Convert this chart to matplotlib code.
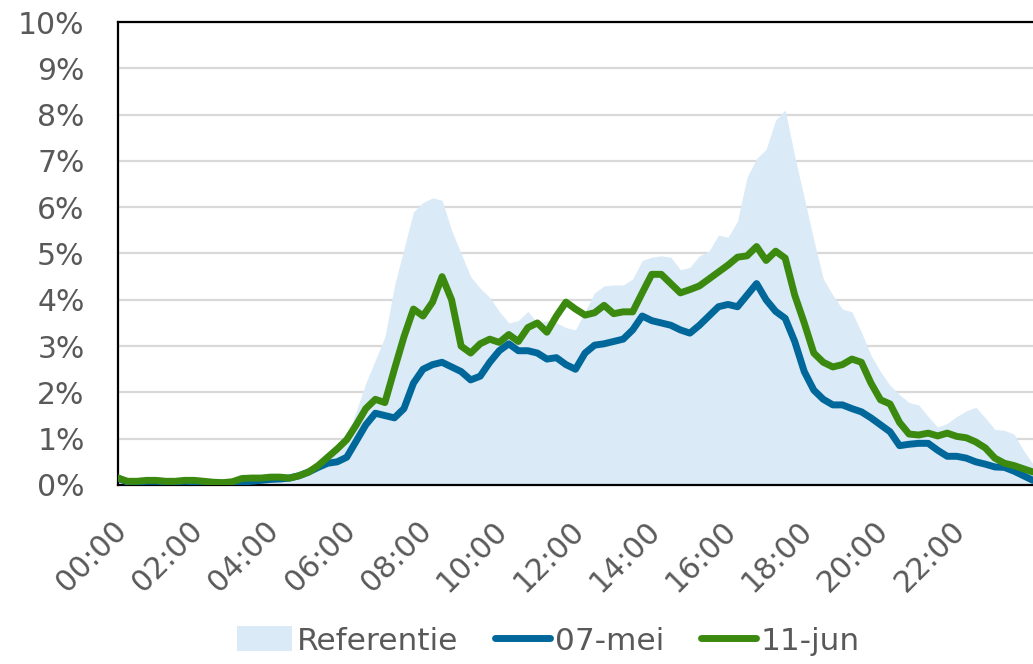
import numpy as np
import matplotlib
matplotlib.use("Agg")
import matplotlib.pyplot as plt
from matplotlib.patches import Patch
from matplotlib.lines import Line2D
from matplotlib.ticker import FuncFormatter, MultipleLocator
from matplotlib.transforms import ScaledTranslation

# --- data: share of daily traffic per quarter hour (%) ---
uren = np.arange(0, 24.01, 0.25)

referentie = [
    0.15, 0.12, 0.10, 0.10, 0.10, 0.08, 0.08, 0.08,
    0.08, 0.07, 0.07, 0.07, 0.08, 0.10, 0.12, 0.14,
    0.16, 0.20, 0.25, 0.30, 0.38, 0.50, 0.65, 0.85,
    1.05, 1.60, 2.20, 2.70, 3.20, 4.30, 5.10, 5.90,
    6.10, 6.20, 6.15, 5.50, 5.00, 4.50, 4.25, 4.05,
    3.75, 3.50, 3.55, 3.75, 3.50, 3.55, 3.50, 3.40,
    3.35, 3.75, 4.15, 4.30, 4.32, 4.32, 4.45, 4.85,
    4.92, 4.95, 4.92, 4.65, 4.70, 4.95, 5.05, 5.40,
    5.35, 5.70, 6.65, 7.05, 7.25, 7.88, 8.10, 7.10,
    6.20, 5.29, 4.45, 4.10, 3.80, 3.74, 3.30, 2.80,
    2.45, 2.15, 1.95, 1.78, 1.73, 1.48, 1.25, 1.33,
    1.48, 1.60, 1.68, 1.45, 1.20, 1.18, 1.10, 0.75,
    0.45,
]

mei_07 = [
    0.15, 0.06, 0.06, 0.08, 0.08, 0.07, 0.07, 0.08,
    0.07, 0.05, 0.05, 0.04, 0.04, 0.06, 0.08, 0.10,
    0.12, 0.13, 0.15, 0.20, 0.28, 0.38, 0.47, 0.50,
    0.60, 0.95, 1.30, 1.55, 1.50, 1.45, 1.65, 2.20,
    2.50, 2.60, 2.65, 2.55, 2.45, 2.27, 2.35, 2.65,
    2.90, 3.05, 2.90, 2.90, 2.85, 2.72, 2.75, 2.60,
    2.50, 2.85, 3.02, 3.05, 3.10, 3.15, 3.35, 3.65,
    3.55, 3.50, 3.45, 3.35, 3.28, 3.45, 3.65, 3.85,
    3.90, 3.85, 4.10, 4.35, 4.00, 3.75, 3.60, 3.10,
    2.45, 2.05, 1.85, 1.73, 1.73, 1.65, 1.58, 1.45,
    1.30, 1.15, 0.85, 0.88, 0.90, 0.90, 0.75, 0.62,
    0.62, 0.58, 0.50, 0.45, 0.39, 0.38, 0.30, 0.20,
    0.10,
]

jun_11 = [
    0.15, 0.08, 0.08, 0.10, 0.10, 0.08, 0.08, 0.10,
    0.10, 0.08, 0.06, 0.05, 0.07, 0.14, 0.15, 0.15,
    0.17, 0.17, 0.15, 0.20, 0.28, 0.42, 0.60, 0.78,
    0.98, 1.30, 1.65, 1.85, 1.78, 2.50, 3.20, 3.80,
    3.65, 3.95, 4.50, 4.00, 3.00, 2.85, 3.05, 3.15,
    3.08, 3.25, 3.10, 3.40, 3.50, 3.30, 3.65, 3.95,
    3.80, 3.67, 3.72, 3.88, 3.70, 3.74, 3.74, 4.15,
    4.55, 4.55, 4.35, 4.15, 4.22, 4.30, 4.45, 4.60,
    4.75, 4.92, 4.95, 5.15, 4.85, 5.05, 4.90, 4.10,
    3.50, 2.85, 2.65, 2.55, 2.60, 2.72, 2.65, 2.20,
    1.84, 1.75, 1.35, 1.10, 1.08, 1.12, 1.06, 1.12,
    1.05, 1.02, 0.93, 0.80, 0.58, 0.47, 0.42, 0.35,
    0.28,
]

tick_uren = list(range(0, 24, 2))
tick_labels = [f"{u:02d}:00" for u in tick_uren]

# --- kleuren ---
KLEUR_REF = "#DAEAF6"
KLEUR_MEI = "#00679A"
KLEUR_JUN = "#3B8A0F"
KLEUR_TEKST = "#595959"
LIJNDIKTE = 5.0

plt.rcParams["font.family"] = ["DejaVu Sans"]

fig = plt.figure(figsize=(10.33, 6.64), dpi=100)
ax = fig.add_axes([118 / 1033, 1 - 485 / 664, 1 - 118 / 1033, (485 - 22) / 664])

ax.fill_between(uren, referentie, 0, color=KLEUR_REF, linewidth=0, zorder=1)
ax.plot(uren, mei_07, color=KLEUR_MEI, linewidth=LIJNDIKTE,
        solid_joinstyle="round", solid_capstyle="round", zorder=3)
ax.plot(uren, jun_11, color=KLEUR_JUN, linewidth=LIJNDIKTE,
        solid_joinstyle="round", solid_capstyle="round", zorder=4)

ax.set_xlim(0, 24)
ax.set_ylim(0, 10)

# y-as in procenten
ax.yaxis.set_major_locator(MultipleLocator(1))
ax.yaxis.set_major_formatter(FuncFormatter(lambda v, p: f"{v:.0f}%"))
ax.grid(axis="y", color="#D9D9D9", linewidth=1.6, zorder=0)
ax.set_axisbelow(True)

ax.set_xticks(tick_uren)
ax.set_xticklabels(tick_labels, rotation=45, ha="right", va="center",
                   rotation_mode="anchor")

ax.tick_params(axis="y", length=0, pad=24, labelsize=21.5, labelcolor=KLEUR_TEKST)
ax.tick_params(axis="x", length=0, pad=27, labelsize=21.5, labelcolor=KLEUR_TEKST)

# schuine labels iets naar rechts/onder schuiven
verschuiving = ScaledTranslation(4 / 100, -3 / 100, fig.dpi_scale_trans)
for lbl in ax.get_xticklabels():
    lbl.set_transform(lbl.get_transform() + verschuiving)

for kant in ("left", "top", "bottom"):
    ax.spines[kant].set_color("black")
    ax.spines[kant].set_linewidth(1.6)
ax.spines["right"].set_visible(False)
ax.spines["bottom"].set_zorder(2)

# legenda onder de grafiek
handles = [
    Patch(facecolor=KLEUR_REF, edgecolor="none"),
    Line2D([0], [0], color=KLEUR_MEI, linewidth=LIJNDIKTE, solid_capstyle="round"),
    Line2D([0], [0], color=KLEUR_JUN, linewidth=LIJNDIKTE, solid_capstyle="round"),
]
fig.legend(handles, ["Referentie", "07-mei", "11-jun"], ncol=3,
           loc="center", bbox_to_anchor=(548.5 / 1033, 23 / 664),
           frameon=False, fontsize=22.5, labelcolor=KLEUR_TEKST,
           handlelength=1.75, handleheight=0.85, handletextpad=0.15,
           columnspacing=1.2, borderpad=0)

fig.savefig("out.png", dpi=100)
